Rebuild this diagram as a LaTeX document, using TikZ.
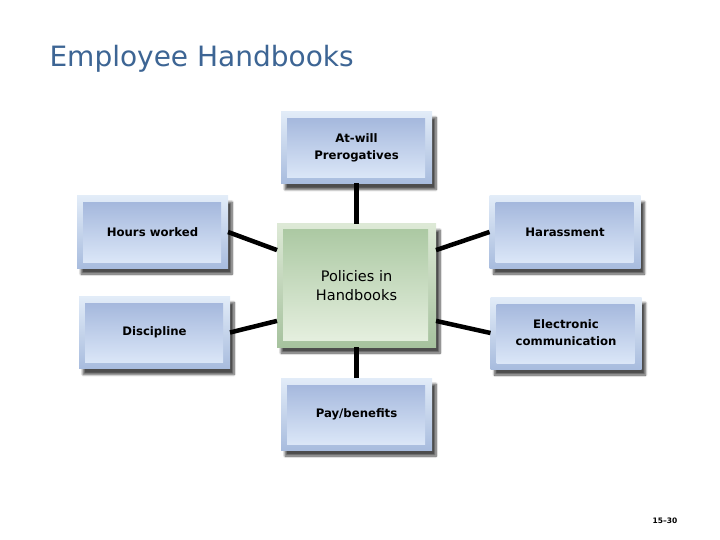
\documentclass[tikz,border=0pt]{standalone}
\usepackage{fontspec}
\setmainfont{DejaVu Sans}
\usetikzlibrary{shadows.blur}
\definecolor{titleblue}{HTML}{3D6594}
\definecolor{bluetop}{HTML}{9FB3DA}
\definecolor{bluebot}{HTML}{E0EBFA}
\definecolor{frameltop}{HTML}{E2ECF8}
\definecolor{framelbot}{HTML}{A8BCDE}
\definecolor{greentop}{HTML}{A9C7A0}
\definecolor{greenbot}{HTML}{E8F1E2}
\definecolor{framegtop}{HTML}{DDE9D6}
\definecolor{framegbot}{HTML}{A6C29E}
\begin{document}
\begin{tikzpicture}[x=1pt,y=-1pt,
    topic/.style={minimum width=151pt, minimum height=72pt, inner sep=0pt, outer sep=0pt,
        top color=frameltop, bottom color=framelbot,
        blur shadow={shadow xshift=4pt, shadow yshift=-6pt, shadow blur steps=8, shadow opacity=70},
        path picture={\shade[top color=bluetop, bottom color=bluebot]
            ([shift={(6pt,-7pt)}]path picture bounding box.north west) rectangle
            ([shift={(-7pt,6pt)}]path picture bounding box.south east);},
        font=\fontsize{11.7}{17}\selectfont\bfseries, align=center},
    hub/.style={minimum width=159pt, minimum height=123pt, inner sep=0pt, outer sep=0pt,
        top color=framegtop, bottom color=framegbot,
        blur shadow={shadow xshift=4pt, shadow yshift=-6pt, shadow blur steps=8, shadow opacity=70},
        path picture={\shade[top color=greentop, bottom color=greenbot]
            ([shift={(6pt,-6pt)}]path picture bounding box.north west) rectangle
            ([shift={(-8pt,7pt)}]path picture bounding box.south east);},
        font=\fontsize{14.5}{19}\selectfont, align=center},
    link/.style={line width=4.5pt, black}]
  \useasboundingbox (0,0) rectangle (720,540);
  \node[anchor=base west, text=titleblue, font=\fontsize{28}{32}\selectfont] (title) at (46,67) {Employee Handbooks};

  \node[hub] (policies) at (356.5,285.5) {Policies in\\Handbooks};
  \node[topic] (atwill) at (356.5,147.5) {At-will\\Prerogatives};
  \node[topic] (hours) at (152.5,232) {Hours worked};
  \node[topic] (harass) at (565,232) {Harassment};
  \node[topic] (discipline) at (154.5,332.5) {Discipline};
  \node[topic] (email) at (566,333) {Electronic\\communication};
  \node[topic] (pay) at (356.5,414) {Pay/benefits};

  % spokes
  \draw[link] (atwill.south) -- (policies.north);
  \draw[link] (pay.north) -- (policies.south);
  \draw[link] (hours.east) -- (policies.156);
  \draw[link] (discipline.east) -- (policies.204);
  \draw[link] (harass.west) -- (policies.24);
  \draw[link] (email.west) -- (policies.-24);

  \node[font=\fontsize{7.5}{8}\selectfont\bfseries] (slide) at (665,521) {15–30};
\end{tikzpicture}
\end{document}
